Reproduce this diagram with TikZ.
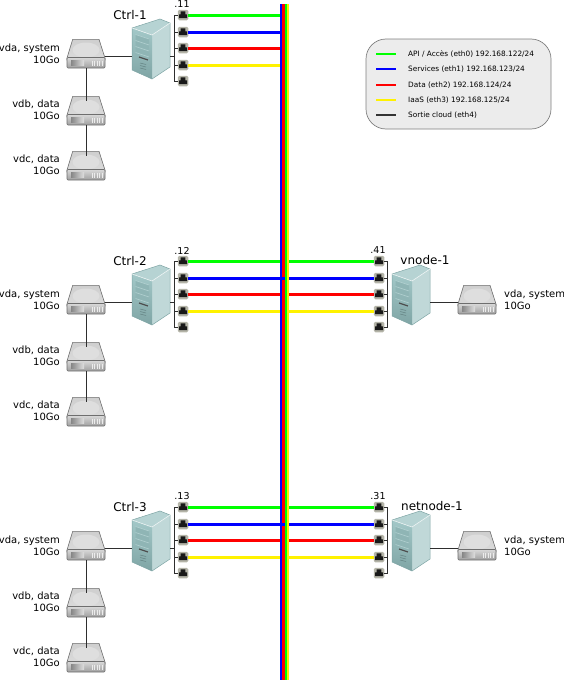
\documentclass[tikz,border=0pt]{standalone}
\usepackage{fontspec}
\setmainfont{DejaVu Sans}
\usetikzlibrary{calc}
\definecolor{wirecol}{HTML}{2E2E2E}
\definecolor{diskedge}{HTML}{6E6E6E}
\definecolor{srvfront}{HTML}{A3C8C8}
\definecolor{srvside}{HTML}{C0D8D8}
\definecolor{srvtop}{HTML}{B6D3D3}
\definecolor{srvedge}{HTML}{7FA5A5}
\definecolor{portfill}{HTML}{B4B4A8}
\definecolor{legendfill}{HTML}{ECECEC}
\definecolor{legendedge}{HTML}{808080}
\definecolor{sortiecol}{HTML}{333333}
\tikzset{
    wire/.style={draw=wirecol, line width=1pt},
    netline/.style={line width=3pt},
    busline/.style={line width=2.35pt},
    legline/.style={line width=1.3pt},
    hostlabel/.style={font=\fontsize{12}{14}\selectfont, inner sep=0pt},
    iplabel/.style={font=\fontsize{9.5}{11}\selectfont, inner sep=0pt},
    disklabel/.style={font=\fontsize{10}{12}\selectfont, inner sep=0pt},
    legtext/.style={font=\fontsize{7.35}{8}\selectfont, inner sep=0pt, anchor=west},
    disk/.pic={
        \node[minimum width=38pt, minimum height=24pt, inner sep=0pt] (-box) at (0,0) {};
        \path[draw=diskedge, line width=0.6pt, top color=white!62!gray, bottom color=white!72!gray]
            (-13.3,-16.7) -- (13,-16.7) -- (19,2) -- (19,4) -- (-19,4) -- (-19,2) -- cycle;
        \fill[white!74!gray] (0,-6) ellipse [x radius=13.5pt, y radius=7.5pt];
        \path[draw=diskedge, line width=0.6pt, rounded corners=1pt, top color=white!70!gray, bottom color=white!25!gray]
            (-19,1.5) -- (19,1.5) -- (19,12) -- (-19,12) -- cycle;
        \path[left color=white!5!gray, right color=white!75!gray] (-15,4.5) rectangle (-2,9);
        \foreach \sl in {6,8.5,...,16} {
            \draw[white!85!gray, line width=0.7pt] (\sl,4.5) -- (\sl,9.5);
        }
    },
    server/.pic={
        \node[minimum width=38pt, minimum height=60pt, inner sep=0pt] (-box) at (0,-7) {};
        \fill[srvtop] (-19,-28) -- (9,-37) -- (19,-33) -- (1,-21) -- cycle;
        \fill[srvside] (1,-21) -- (19,-33) -- (19,11) -- (1,23) -- cycle;
        \path[top color=srvfront, bottom color=srvedge] (-19,-28) -- (1,-21) -- (1,23) -- (-19,14) -- cycle;
        \draw[srvedge, line width=0.5pt] (-19,-28) -- (9,-37) -- (19,-33) -- (19,11) -- (1,23) -- (-19,14) -- cycle;
        \draw[white!70!srvside, line width=0.6pt] (-19,-28) -- (1,-21) -- (19,-33);
        \fill[srvedge!55!srvfront] (-15.5,-21.5) -- (-2,-17) -- (-2,6) -- (-15.5,1) -- cycle;
        \foreach \sl in {-17,-11,-5,1} {
            \draw[srvfront!80!white, line width=0.5pt] (-15.5,\sl-4.5) -- (-2,\sl);
        }
        \draw[black!70, line width=1.2pt] (-12,1) -- (-3,4);
        \foreach \sl in {7,9.5,12} {
            \draw[srvedge!80!black, line width=0.5pt] (-11,\sl) -- (-5,\sl+1.5);
        }
    },
    port/.pic={
        \node[fill=portfill, rounded corners=1.5pt, minimum size=10.5pt, inner sep=0pt] (-box) at (0,0) {};
        \fill[black!90] (-4,3) -- (-4,-0.7) -- (-2.3,-0.7) -- (-2.3,-3.6) -- (2.3,-3.6) -- (2.3,-0.7) -- (4,-0.7) -- (4,3) -- cycle;
    },
}
\newcommand{\PortColumn}[2]{%
    % five ports, 16.5 apart, hung off one bracket
    \pic (#1p1) at (#2,15) {port};
    \pic (#1p2) at (#2,32) {port};
    \pic (#1p3) at (#2,48) {port};
    \pic (#1p4) at (#2,65) {port};
    \pic (#1p5) at (#2,81) {port};
}
\newcommand{\NetLines}[2]{%
    \draw[netline, green] (#1p1-box.east) -- (#2 |- #1p1-box);
    \draw[netline, blue] (#1p2-box.east) -- (#2 |- #1p2-box);
    \draw[netline, red] (#1p3-box.east) -- (#2 |- #1p3-box);
    \draw[netline, yellow] (#1p4-box.east) -- (#2 |- #1p4-box);
}
\begin{document}
\begin{tikzpicture}[x=1pt, y=-1pt]
    \useasboundingbox (0,0) rectangle (564,680);

    % bus columns
    \coordinate (busB) at (281.2,4);
    \coordinate (busR) at (283.5,4);
    \coordinate (busG) at (285.8,4);
    \coordinate (busY) at (288.1,4);
    \coordinate (busBot) at (285,680);

    % Ctrl hosts
    \foreach \hn/\hlab/\hip/\hdy in {c1/Ctrl-1/.11/0, c2/Ctrl-2/.12/246, c3/Ctrl-3/.13/492} {
        \begin{scope}[shift={(0,\hdy)}]
            \pic (\hn s) at (151,56) {server};
            \PortColumn{\hn}{183}
            \coordinate (\hn bus) at (174.5,56);
            \node[hostlabel] (\hn lab) at (130,15) {\hlab};
            \node[iplabel] (\hn ip) at (182,4.5) {\hip};
            \pic (\hn d1) at (86,56) {disk};
            \pic (\hn d2) at (86,113) {disk};
            \pic (\hn d3) at (86,168) {disk};
            \node[disklabel, align=right, anchor=east] (\hn l1) at (60,54) {vda, system\\10Go};
            \node[disklabel, align=right, anchor=east] (\hn l2) at (60,110) {vdb, data\\10Go};
            \node[disklabel, align=right, anchor=east] (\hn l3) at (60,165) {vdc, data\\10Go};
            \draw[wire] (\hn d1-box) -- (\hn s-box.west |- \hn d1-box);
            \draw[wire] (\hn d1-box.south) -- (\hn d2-box.north);
            \draw[wire] (\hn d2-box.south) -- (\hn d3-box.north);
            \draw[wire] (\hn s-box.east |- \hn bus) -- (\hn bus);
            \foreach \i in {1,...,5} {
                \draw[wire] (\hn p\i-box.west) -| (\hn bus);
            }
        \end{scope}
    }

    % vnode and netnode
    \foreach \hn/\hlab/\hip/\hdy/\hx in {v1/vnode-1/.41/246/425, n1/netnode-1/.31/492/432} {
        \begin{scope}[shift={(0,\hdy)}]
            \pic (\hn s) at (411,56) {server};
            \PortColumn{\hn}{379}
            \coordinate (\hn bus) at (387,56);
            \node[hostlabel] (\hn lab) at (\hx,14) {\hlab};
            \node[iplabel] (\hn ip) at (378,4.5) {\hip};
            \pic (\hn d1) at (477,56) {disk};
            \node[disklabel, align=left, anchor=west] (\hn l1) at (504,54) {vda, system\\10Go};
            \draw[wire] (\hn s-box.east |- \hn bus) -- (\hn d1-box.west);
            \foreach \i in {1,...,5} {
                \draw[wire] (\hn p\i-box.east) -| (\hn bus);
            }
        \end{scope}
    }

    % network lines, then the bus over them
    \NetLines{c1}{busB}
    \NetLines{c2}{v1p1-box.west}
    \NetLines{c3}{n1p1-box.west}
    \draw[busline, blue] (busB) -- (busB |- busBot);
    \draw[busline, red] (busR) -- (busR |- busBot);
    \draw[busline, green] (busG) -- (busG |- busBot);
    \draw[busline, yellow] (busY) -- (busY |- busBot);
    % blue tap over the red column
    \draw[netline, blue] (busB |- c2p2-box) -- ([xshift=-1pt]busG |- c2p2-box);
    \draw[netline, blue] (busB |- c3p2-box) -- ([xshift=-1pt]busG |- c3p2-box);

    % legend
    \node[draw=legendedge, fill=legendfill, rounded corners=20pt, line width=0.7pt,
          minimum width=185pt, minimum height=90pt, inner sep=0pt] (legend) at (458.5,84) {};
    \foreach \ly/\lc/\lt in {54/green/{API / Accès (eth0) 192.168.122/24},
                             69/blue/{Services (eth1) 192.168.123/24},
                             85/red/{Data (eth2) 192.168.124/24},
                             100/yellow/{IaaS (eth3) 192.168.125/24},
                             115/sortiecol/{Sortie cloud (eth4)}} {
        \draw[legline, \lc] (376,\ly) -- (396,\ly);
        \node[legtext] at (408,\ly) {\lt};
    }
\end{tikzpicture}
\end{document}
